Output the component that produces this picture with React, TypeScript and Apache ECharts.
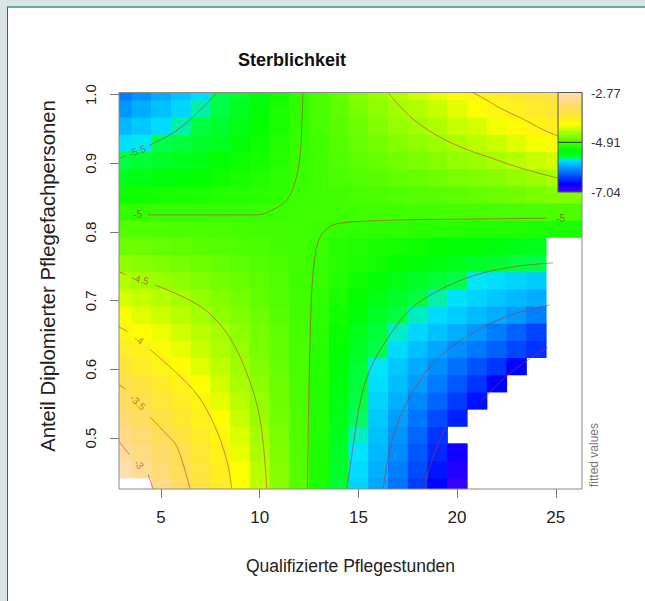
import React, { useEffect, useRef } from 'react';
import * as echarts from 'echarts';

const FONT = '"Liberation Sans", Arial, Helvetica, sans-serif';

// grid of fitted values (columns = x centres, rows = y centres), null = not estimated (white)
const xCenters = [3, 4, 5, 6, 7, 8, 9, 10, 11, 12, 13, 14, 15, 16, 17, 18, 19, 20, 21, 22, 23, 24, 25, 26];
const yCenters = [0.43, 0.455, 0.48, 0.505, 0.53, 0.555, 0.58, 0.605, 0.63, 0.655, 0.68, 0.705, 0.73, 0.755, 0.78, 0.805, 0.83, 0.855, 0.88, 0.905, 0.93, 0.955, 0.98, 1.005];

const r0430 = [null, null, -3.11, -3.37, -3.62, -3.86, -4.11, -4.40, -4.64, -4.87, -5.14, -5.48, -5.74, -5.95, -6.18, -6.43, -6.68, -6.93, null, null, null, null, null, null];
const r0455 = [-2.80, -3.02, -3.24, -3.46, -3.68, -3.90, -4.14, -4.42, -4.65, -4.87, -5.13, -5.44, -5.71, -5.91, -6.13, -6.36, -6.60, -6.85, null, null, null, null, null, null];
const r0480 = [-2.96, -3.15, -3.33, -3.53, -3.74, -3.95, -4.21, -4.47, -4.68, -4.88, -5.12, -5.41, -5.67, -5.87, -6.07, -6.30, -6.52, -6.77, null, null, null, null, null, null];
const r0505 = [-3.09, -3.27, -3.46, -3.65, -3.84, -4.04, -4.27, -4.51, -4.70, -4.89, -5.11, -5.38, -5.64, -5.83, -6.03, -6.24, -6.46, null, null, null, null, null, null, null];
const r0530 = [-3.25, -3.42, -3.59, -3.76, -3.93, -4.13, -4.35, -4.56, -4.73, -4.90, -5.10, -5.35, -5.60, -5.79, -5.98, -6.17, -6.36, -6.55, null, null, null, null, null, null];
const r0555 = [-3.40, -3.56, -3.71, -3.86, -4.02, -4.22, -4.42, -4.59, -4.75, -4.91, -5.09, -5.32, -5.55, -5.74, -5.91, -6.08, -6.25, -6.43, -6.62, null, null, null, null, null];
const r0580 = [-3.53, -3.67, -3.81, -3.96, -4.13, -4.31, -4.49, -4.63, -4.77, -4.92, -5.09, -5.30, -5.51, -5.70, -5.84, -5.99, -6.15, -6.31, -6.46, -6.69, null, null, null, null];
const r0605 = [-3.69, -3.83, -3.96, -4.10, -4.25, -4.40, -4.54, -4.67, -4.80, -4.93, -5.08, -5.28, -5.48, -5.66, -5.79, -5.93, -6.06, -6.19, -6.33, -6.46, -6.68, null, null, null];
const r0630 = [-3.85, -3.95, -4.08, -4.21, -4.34, -4.47, -4.58, -4.70, -4.81, -4.93, -5.07, -5.24, -5.41, -5.58, -5.71, -5.83, -5.95, -6.06, -6.16, -6.26, -6.37, -6.47, null, null];
const r0655 = [-4.00, -4.10, -4.20, -4.31, -4.41, -4.51, -4.62, -4.72, -4.83, -4.94, -5.06, -5.21, -5.36, -5.50, -5.64, -5.73, -5.83, -5.92, -6.01, -6.14, -6.26, -6.39, null, null];
const r0680 = [-4.15, -4.24, -4.33, -4.42, -4.51, -4.60, -4.68, -4.77, -4.86, -4.95, -5.05, -5.17, -5.29, -5.41, -5.54, -5.64, -5.71, -5.78, -5.85, -5.92, -6.00, -6.12, null, null];
const r0705 = [-4.30, -4.37, -4.44, -4.51, -4.59, -4.66, -4.73, -4.81, -4.88, -4.95, -5.03, -5.13, -5.23, -5.33, -5.43, -5.53, -5.63, -5.68, -5.74, -5.80, -5.86, -5.92, null, null];
const r0730 = [-4.45, -4.51, -4.56, -4.62, -4.67, -4.73, -4.79, -4.84, -4.90, -4.96, -5.02, -5.10, -5.18, -5.26, -5.34, -5.42, -5.50, -5.58, -5.66, -5.70, -5.74, -5.78, null, null];
const r0755 = [-4.60, -4.64, -4.68, -4.72, -4.76, -4.80, -4.84, -4.88, -4.92, -4.96, -5.01, -5.06, -5.12, -5.17, -5.22, -5.27, -5.32, -5.37, -5.42, -5.47, -5.52, -5.57, null, null];
const r0780 = [-4.75, -4.77, -4.80, -4.82, -4.85, -4.87, -4.90, -4.92, -4.95, -4.97, -5.00, -5.08, -5.11, -5.14, -5.16, -5.20, -5.23, -5.25, -5.28, -5.31, -5.34, -5.36, null, null];
const r0805 = [-4.88, -4.89, -4.90, -4.91, -4.92, -4.93, -4.94, -4.95, -4.96, -4.97, -4.99, -5.02, -5.03, -5.04, -5.05, -5.06, -5.07, -5.08, -5.09, -5.10, -5.11, -5.12, -5.13, -5.13];
const r0830 = [-5.03, -5.03, -5.02, -5.02, -5.02, -5.01, -5.01, -5.00, -4.99, -4.97, -4.96, -4.96, -4.96, -4.96, -4.96, -4.95, -4.95, -4.94, -4.94, -4.93, -4.93, -4.92, -4.91, -4.91];
const r0855 = [-5.20, -5.18, -5.16, -5.14, -5.12, -5.10, -5.08, -5.06, -5.03, -4.99, -4.97, -4.95, -4.93, -4.91, -4.89, -4.87, -4.85, -4.83, -4.80, -4.77, -4.74, -4.71, -4.68, -4.66];
const r0880 = [-5.37, -5.33, -5.30, -5.26, -5.22, -5.18, -5.14, -5.10, -5.05, -5.00, -4.96, -4.92, -4.89, -4.85, -4.81, -4.79, -4.75, -4.71, -4.68, -4.64, -4.59, -4.54, -4.50, -4.47];
const r0905 = [-5.54, -5.48, -5.43, -5.37, -5.32, -5.26, -5.21, -5.15, -5.08, -5.01, -4.95, -4.90, -4.84, -4.79, -4.74, -4.70, -4.65, -4.59, -4.55, -4.50, -4.43, -4.36, -4.29, -4.23];
const r0930 = [-5.70, -5.66, -5.59, -5.51, -5.43, -5.37, -5.27, -5.19, -5.10, -5.02, -4.95, -4.87, -4.80, -4.73, -4.66, -4.61, -4.55, -4.47, -4.41, -4.34, -4.25, -4.17, -4.08, -4.02];
const r0955 = [-5.86, -5.79, -5.71, -5.63, -5.53, -5.46, -5.33, -5.23, -5.12, -5.03, -4.93, -4.85, -4.76, -4.67, -4.59, -4.53, -4.46, -4.36, -4.29, -4.18, -4.08, -3.99, -3.90, -3.83];
const r0980 = [-6.02, -5.92, -5.83, -5.73, -5.63, -5.55, -5.40, -5.27, -5.14, -5.04, -4.92, -4.82, -4.71, -4.61, -4.52, -4.45, -4.36, -4.24, -4.12, -4.01, -3.92, -3.82, -3.73, -3.65];
const r1005 = [-6.14, -6.03, -5.92, -5.81, -5.71, -5.59, -5.45, -5.31, -5.17, -5.03, -4.91, -4.79, -4.67, -4.56, -4.45, -4.33, -4.21, -4.09, -3.98, -3.87, -3.76, -3.66, -3.56, -3.47];

const fittedRows = [r0430, r0455, r0480, r0505, r0530, r0555, r0580, r0605, r0630, r0655, r0680, r0705, r0730, r0755, r0780, r0805, r0830, r0855, r0880, r0905, r0930, r0955, r0980, r1005];

// axis ticks & legend labels
const xTicks = [5, 10, 15, 20, 25];
const yTicks = [0.5, 0.6, 0.7, 0.8, 0.9, 1.0];
const zMax = -2.77;
const zMin = -7.04;
const legendLabels = ['-2.77', '-4.91', '-7.04'];

// contour line pieces [x, y]
const cM5upperLeft = [[4.34, 0.825], [6.0, 0.825], [8.0, 0.825], [9.86, 0.825], [10.67, 0.8325], [11.38, 0.847], [11.79, 0.872], [12.04, 0.91], [12.14, 0.959], [12.19, 1.003]];
const cM5lowerRight = [[12.42, 0.426], [12.48, 0.55], [12.56, 0.65], [12.65, 0.72], [12.8, 0.765], [13.05, 0.792], [13.5, 0.807], [14.1, 0.813], [15.5, 0.816], [18, 0.818], [21, 0.819], [24.55, 0.82]];
const cM55leftStub = [[2.87, 0.907], [3.2, 0.911]];
const cM55upperLeft = [[4.4, 0.926], [5.29, 0.939], [6.0, 0.952], [6.64, 0.968], [7.3, 0.986], [7.82, 1.003]];
const cM55lowerRight = [[14.41, 0.426], [14.73, 0.488], [15.08, 0.551], [15.59, 0.6], [16.43, 0.643], [17.61, 0.687], [19.13, 0.716], [21.0, 0.738], [23.0, 0.75], [24.86, 0.755]];
const cM6 = [[16.25, 0.426], [16.76, 0.502], [17.61, 0.56], [18.78, 0.609], [20.5, 0.648], [22.53, 0.677], [24.7, 0.694]];
const cM65a = [[18.29, 0.426], [18.8, 0.473], [19.45, 0.52]];
const cM65b = [[21.2, 0.553], [22.5, 0.59], [23.8, 0.618], [24.6, 0.632]];
const cM45topRight = [[16.5, 1.003], [17.2, 0.98], [18.0, 0.959], [19.2, 0.937], [20.5, 0.92], [22.0, 0.905], [23.0, 0.895], [24.9, 0.88], [26.33, 0.872]];
const cM4topRight = [[20.8, 1.003], [21.5, 0.992], [22.2, 0.98], [23.3, 0.965], [24.35, 0.949], [25.5, 0.935], [26.33, 0.926]];
const cM45leftStub = [[2.87, 0.742], [3.2, 0.738]];
const cM45bottomLeft = [[4.7, 0.723], [6.98, 0.692], [8.33, 0.653], [9.34, 0.595], [10.02, 0.527], [10.36, 0.426]];
const cM4leftStub = [[2.87, 0.662], [3.3, 0.655]];
const cM4bottomLeft = [[4.44, 0.629], [6.64, 0.57], [7.65, 0.522], [8.33, 0.468], [8.58, 0.426]];
const cM35leftStub = [[2.87, 0.578], [3.2, 0.571]];
const cM35 = [[4.44, 0.531], [5.2, 0.508], [5.8, 0.488], [6.47, 0.426]];
const cM3leftStub = [[2.87, 0.495], [3.4, 0.476]];
const cM3 = [[4.35, 0.447], [4.6, 0.426]];

const contourPieces = [cM5upperLeft, cM5lowerRight, cM55leftStub, cM55upperLeft, cM55lowerRight, cM6, cM65a, cM65b, cM45topRight, cM4topRight, cM45leftStub, cM45bottomLeft, cM4leftStub, cM4bottomLeft, cM35leftStub, cM35, cM3leftStub, cM3];

const contourLabelText = ['-5', '-5.5', '-4.5', '-4', '-3.5', '-3', '-5'];
const contourLabelPos = [[3.82, 0.825], [3.8, 0.918], [3.95, 0.731], [3.87, 0.643], [3.82, 0.552], [3.88, 0.462], [25.25, 0.82]];
const contourLabelAngle = [0, 20, -15, -33, -45, -52, 0];

function hsvToHex(h: number, s: number, v: number): string {
  const hh = (h * 6) % 6;
  const i = Math.floor(hh);
  const f = hh - i;
  const p = v * (1 - s);
  const q = v * (1 - s * f);
  const t = v * (1 - s * (1 - f));
  let r = 0, g = 0, b = 0;
  if (i === 0) { r = v; g = t; b = p; }
  else if (i === 1) { r = q; g = v; b = p; }
  else if (i === 2) { r = p; g = v; b = t; }
  else if (i === 3) { r = p; g = q; b = v; }
  else if (i === 4) { r = t; g = p; b = v; }
  else { r = v; g = p; b = q; }
  const hx = (x: number) => Math.round(x * 255).toString(16).padStart(2, '0');
  return '#' + hx(r) + hx(g) + hx(b);
}

function topoColors(n: number): string[] {
  const j = Math.floor(n / 3);
  const k = Math.floor(n / 3);
  const i = n - j - k;
  const seq = (a: number, b: number, len: number) =>
    len === 1 ? [a] : Array.from({ length: len }, (_, t) => a + ((b - a) * t) / (len - 1));
  const cols: string[] = [];
  seq(43 / 60, 31 / 60, i).forEach((h) => cols.push(hsvToHex(h, 1, 1)));
  seq(23 / 60, 11 / 60, j).forEach((h) => cols.push(hsvToHex(h, 1, 1)));
  const hs = seq(10 / 60, 6 / 60, k);
  const ss = seq(1, 0.3, k);
  hs.forEach((h, t) => cols.push(hsvToHex(h, ss[t], 1)));
  return cols;
}

const CONTOUR_COLOR = 'rgba(190, 52, 40, 0.6)';

export default function App() {
  const ref = useRef<HTMLDivElement>(null);

  useEffect(() => {
    if (!ref.current) return;
    const chart = echarts.init(ref.current, null, { renderer: 'svg' });

    const topo = topoColors(60);
    const rev = [...topo].reverse();
    const gradient = new echarts.graphic.LinearGradient(
      0, 0, 0, 1,
      rev.map((c, i) => ({ offset: i / (rev.length - 1), color: c }))
    );

    const cells: number[][] = [];
    fittedRows.forEach((row, ri) => {
      row.forEach((v, ci) => {
        if (v !== null) cells.push([xCenters[ci], yCenters[ri], v as number]);
      });
    });

    const contourSeries = contourPieces.map((pts) => ({
      type: 'line',
      data: pts,
      smooth: 0.35,
      showSymbol: false,
      symbol: 'none',
      silent: true,
      clip: true,
      z: 5,
      lineStyle: { color: CONTOUR_COLOR, width: 1 },
    }));

    const labelData = contourLabelText.map((t, i) => ({
      name: t,
      value: contourLabelPos[i],
      label: { rotate: contourLabelAngle[i] },
    }));

    const gridLeft = 119;
    const gridTop = 92.5;
    const gridRight = 582;
    const gridBottom = 489;

    const option: any = {
      animation: false,
      backgroundColor: 'transparent',
      title: {
        text: 'Sterblichkeit',
        left: 233,
        top: 46,
        textStyle: { fontSize: 18, fontWeight: 'bold', color: '#111', fontFamily: FONT },
      },
      grid: {
        left: gridLeft,
        top: gridTop,
        right: 645 - gridRight,
        bottom: 601 - gridBottom,
        containLabel: false,
      },
      xAxis: {
        type: 'value',
        min: 2.87,
        max: 26.33,
        axisLine: { show: false },
        axisTick: { show: true, length: 9, lineStyle: { color: '#777' }, customValues: xTicks },
        axisLabel: { customValues: xTicks, fontSize: 17, color: '#222', margin: 20, fontFamily: FONT },
        splitLine: { show: false },
        name: 'Qualifizierte Pflegestunden',
        nameLocation: 'middle',
        nameGap: 68,
        nameTextStyle: { fontSize: 17.5, color: '#222', fontFamily: FONT },
      },
      yAxis: {
        type: 'value',
        min: 0.426,
        max: 1.003,
        axisLine: { show: false },
        axisTick: { show: true, length: 9, lineStyle: { color: '#777' }, customValues: yTicks },
        axisLabel: {
          customValues: yTicks,
          rotate: 90,
          fontSize: 15,
          color: '#222',
          margin: 21,
          fontFamily: FONT,
          formatter: (v: number) => v.toFixed(1),
        },
        splitLine: { show: false },
      },
      visualMap: {
        show: false,
        type: 'continuous',
        min: zMin,
        max: zMax,
        dimension: 2,
        seriesIndex: 0,
        inRange: { color: topo },
      },
      series: [
        {
          type: 'custom',
          data: cells,
          encode: { x: 0, y: 1 },
          z: 1,
          silent: true,
          renderItem: (params: any, api: any) => {
            const x = api.value(0);
            const y = api.value(1);
            const a = api.coord([x - 0.5, y + 0.0125]);
            const b = api.coord([x + 0.5, y - 0.0125]);
            const cs = params.coordSys;
            const shape = echarts.graphic.clipRectByRect(
              { x: a[0], y: a[1], width: b[0] - a[0] + 0.7, height: b[1] - a[1] + 0.7 },
              { x: cs.x, y: cs.y, width: cs.width, height: cs.height }
            );
            if (!shape) return null;
            return { type: 'rect', shape, style: { fill: api.visual('color'), stroke: null } };
          },
        },
        ...contourSeries,
        {
          type: 'scatter',
          data: labelData,
          symbolSize: 1,
          itemStyle: { color: 'rgba(0,0,0,0)' },
          silent: true,
          z: 6,
          label: {
            show: true,
            position: 'inside',
            formatter: '{b}',
            fontSize: 10,
            color: 'rgba(140, 60, 30, 0.85)',
            fontFamily: FONT,
          },
        },
      ],
      graphic: [
        {
          type: 'rect',
          z: 100,
          silent: true,
          shape: { x: gridLeft, y: gridTop, width: gridRight - gridLeft, height: gridBottom - gridTop },
          style: { fill: 'none', stroke: '#8a8a8a', lineWidth: 1 },
        },
        {
          type: 'rect',
          z: 101,
          silent: true,
          shape: { x: 558, y: gridTop, width: gridRight - 558, height: 99.5 },
          style: { fill: gradient, stroke: '#555', lineWidth: 1 },
        },
        {
          type: 'line',
          z: 102,
          silent: true,
          shape: { x1: 558, y1: 142.3, x2: gridRight, y2: 142.3 },
          style: { stroke: '#333', lineWidth: 1 },
        },
        {
          type: 'text',
          z: 102,
          silent: true,
          style: { x: 591, y: 93, text: legendLabels[0], fontSize: 13, fill: '#333', fontFamily: FONT, verticalAlign: 'middle' },
        },
        {
          type: 'text',
          z: 102,
          silent: true,
          style: { x: 591, y: 142.3, text: legendLabels[1], fontSize: 13, fill: '#333', fontFamily: FONT, verticalAlign: 'middle' },
        },
        {
          type: 'text',
          z: 102,
          silent: true,
          style: { x: 591, y: 192, text: legendLabels[2], fontSize: 13, fill: '#333', fontFamily: FONT, verticalAlign: 'middle' },
        },
        {
          type: 'rect',
          z: 103,
          silent: true,
          shape: { x: 620, y: 80, width: 25, height: 125 },
          style: { fill: '#ffffff' },
        },
        {
          type: 'text',
          z: 102,
          silent: true,
          x: 48,
          y: 276,
          rotation: Math.PI / 2,
          style: { x: 0, y: 0, text: 'Anteil Diplomierter Pflegefachpersonen', fontSize: 20.3, fill: '#222', fontFamily: FONT, align: 'center', verticalAlign: 'middle' },
        },
        {
          type: 'text',
          z: 102,
          silent: true,
          x: 594,
          y: 455,
          rotation: Math.PI / 2,
          style: { x: 0, y: 0, text: 'fitted values', fontSize: 12, fill: '#777', fontFamily: FONT, align: 'center', verticalAlign: 'middle' },
        },
      ],
    };

    chart.setOption(option);
    return () => chart.dispose();
  }, []);

  return (
    <div style={{ position: 'fixed', left: 0, top: 0, width: 645, height: 601, background: '#dbe5e6', overflow: 'hidden' }}>
      <div
        style={{
          position: 'absolute',
          left: 7,
          top: 6,
          right: 0,
          bottom: 0,
          background: '#ffffff',
          borderLeft: '1px solid #17767c',
          borderTop: '2px solid #63adae',
        }}
      />
      <div ref={ref} style={{ position: 'absolute', left: 0, top: 0, width: 645, height: 601 }} />
    </div>
  );
}
